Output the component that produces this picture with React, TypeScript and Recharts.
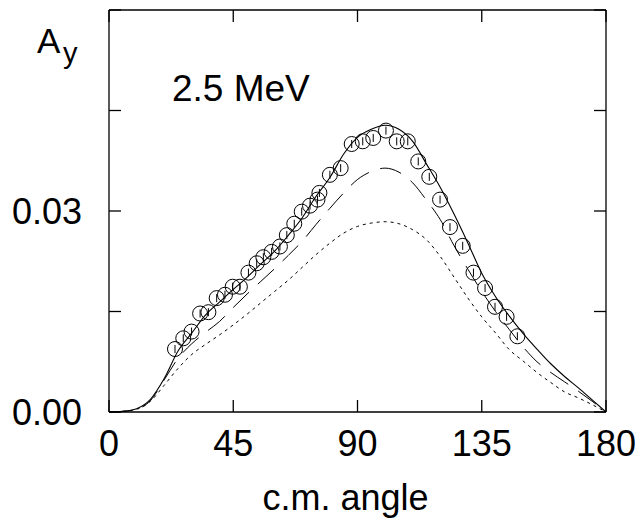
import React from 'react';
import {
    ComposedChart,
    Line,
    Scatter,
    ErrorBar,
    XAxis,
    YAxis,
    Label
} from 'recharts';

// theory curves, sampled every 5 degrees
const ANGLES = [0, 5, 10, 15, 20, 25, 30, 35, 40, 45, 50, 55, 60, 65, 70, 75, 80, 85, 90,
    95, 100, 105, 110, 115, 120, 125, 130, 135, 140, 145, 150, 155, 160, 165, 170, 175, 180];
const SOLID = [0, 0.0001, 0.0005, 0.0019, 0.0050, 0.0091, 0.0118, 0.0145, 0.0164, 0.0183, 0.0201,
    0.0221, 0.0240, 0.0264, 0.0290, 0.0322, 0.0350, 0.0385, 0.0410, 0.0422, 0.0428, 0.0422, 0.0404,
    0.0370, 0.0335, 0.0295, 0.0252, 0.0207, 0.0172, 0.0143, 0.0117, 0.0094, 0.0072, 0.0053, 0.0036, 0.0018, 0];
const DASHED = [0, 0.0001, 0.0004, 0.0017, 0.0048, 0.0080, 0.0102, 0.0119, 0.0135, 0.0156, 0.0176,
    0.0195, 0.0214, 0.0234, 0.0255, 0.0280, 0.0304, 0.0327, 0.0347, 0.0359, 0.0364, 0.0358, 0.0342,
    0.0316, 0.0287, 0.0248, 0.0213, 0.0180, 0.0150, 0.0123, 0.0097, 0.0075, 0.0059, 0.0045, 0.0031, 0.0016, 0];
const DOTTED = [0, 0.0001, 0.0004, 0.0016, 0.0040, 0.0065, 0.0086, 0.0101, 0.0115, 0.0130, 0.0146,
    0.0163, 0.0180, 0.0197, 0.0216, 0.0235, 0.0252, 0.0267, 0.0277, 0.0282, 0.0284, 0.0281, 0.0272,
    0.0257, 0.0232, 0.0201, 0.0170, 0.0142, 0.0118, 0.0093, 0.0076, 0.0059, 0.0044, 0.0030, 0.0021, 0.0011, 0];

// measured points
const DATA_ANGLES = [23.9, 26.9, 29.9, 33, 36, 39, 42, 44.8, 47.4, 50.5, 53.5, 55.9, 58.9, 61.9,
    64.4, 67.1, 69.8, 72.8, 75.5, 76.2, 80, 83.9, 87.9, 91.9, 95.7, 100.3, 104.2, 108.2, 112, 116,
    119.9, 123.5, 128.1, 132, 136.2, 139.8, 144, 147.9];
const DATA_AY = [0.0094, 0.0110, 0.0120, 0.0147, 0.0149, 0.0170, 0.0175, 0.0187, 0.0187, 0.0208,
    0.0222, 0.0231, 0.0239, 0.0247, 0.0264, 0.0281, 0.0299, 0.0308, 0.0317, 0.0327, 0.0354, 0.0364,
    0.0400, 0.0404, 0.0409, 0.0420, 0.0404, 0.0404, 0.0374, 0.0351, 0.0317, 0.0276, 0.0248, 0.0208,
    0.0185, 0.0157, 0.0142, 0.0113];
const DATA_ERR = 0.0006;

const X_TICKS = [0, 45, 90, 135, 180];
const Y_TICKS = [0, 0.015, 0.03, 0.045, 0.06];
const Y_LABELED = [0, 0.03];

const FONT = '"Liberation Sans", Arial, sans-serif';

const curves = ANGLES.map((a, i) => ({ angle: a, solid: SOLID[i], dashed: DASHED[i], dotted: DOTTED[i] }));
const points = DATA_ANGLES.map((a, i) => ({ angle: a, ay: DATA_AY[i], err: DATA_ERR }));

const OpenCircle = (props: any) => (
    <circle cx={props.cx} cy={props.cy} r={7.5} fill="none" stroke="#000" strokeWidth={1} />
);

const tickStyle = { fontFamily: FONT, fontSize: 36, fill: '#000' };

export default function App() {
    return (
        <div style={{ position: 'absolute', left: 0, top: 0, background: '#fff' }}>
            <ComposedChart
                width={642}
                height={523}
                data={curves}
                margin={{ top: 9, right: 35, bottom: 0, left: 0 }}
            >
                <XAxis
                    dataKey="angle"
                    type="number"
                    domain={[0, 180]}
                    ticks={X_TICKS}
                    height={111}
                    tickSize={-12}
                    tickMargin={30}
                    stroke="#000"
                    strokeWidth={1.3}
                    tick={tickStyle}
                >
                    <Label
                        value="c.m. angle"
                        position="insideBottom"
                        offset={13}
                        dx={-12}
                        style={{ fontFamily: FONT, fontSize: 36, fill: '#000' }}
                    />
                </XAxis>
                {/* frame top, ticks pointing in */}
                <XAxis
                    xAxisId="top"
                    orientation="top"
                    dataKey="angle"
                    type="number"
                    domain={[0, 180]}
                    ticks={X_TICKS}
                    height={1}
                    tickSize={-12}
                    tickFormatter={() => ''}
                    stroke="#000"
                    strokeWidth={1.3}
                />
                <YAxis
                    type="number"
                    domain={[0, 0.06]}
                    ticks={Y_TICKS}
                    width={109}
                    tickSize={-12}
                    tickMargin={39}
                    stroke="#000"
                    strokeWidth={1.3}
                    tick={tickStyle}
                    tickFormatter={(v: number) => (Y_LABELED.includes(v) ? v.toFixed(2) : '')}
                >
                    <Label
                        content={() => (
                            <g fontFamily={FONT} fill="#000">
                                <text x={37} y={53} fontSize={35}>A</text>
                                <text x={63} y={63} fontSize={29}>y</text>
                                <text x={172} y={101} fontSize={37}>2.5 MeV</text>
                            </g>
                        )}
                    />
                </YAxis>
                {/* frame right */}
                <YAxis
                    yAxisId="right"
                    orientation="right"
                    type="number"
                    domain={[0, 0.06]}
                    ticks={Y_TICKS}
                    width={1}
                    tickSize={-12}
                    tickFormatter={() => ''}
                    stroke="#000"
                    strokeWidth={1.3}
                />
                {/* invisible series so the top/right frame axes are in use */}
                <Line
                    xAxisId="top"
                    yAxisId="right"
                    dataKey="solid"
                    stroke="none"
                    dot={false}
                    isAnimationActive={false}
                />
                <Line
                    type="monotone"
                    dataKey="dotted"
                    stroke="#000"
                    strokeWidth={1}
                    strokeDasharray="3 4"
                    dot={false}
                    isAnimationActive={false}
                />
                <Line
                    type="monotone"
                    dataKey="dashed"
                    stroke="#000"
                    strokeWidth={1}
                    strokeDasharray="22 12"
                    dot={false}
                    isAnimationActive={false}
                />
                <Line
                    type="monotone"
                    dataKey="solid"
                    stroke="#000"
                    strokeWidth={1.1}
                    dot={false}
                    isAnimationActive={false}
                />
                <Scatter
                    data={points}
                    dataKey="ay"
                    shape={<OpenCircle />}
                    isAnimationActive={false}
                >
                    <ErrorBar dataKey="err" direction="y" width={0} stroke="#000" strokeWidth={1} />
                </Scatter>
            </ComposedChart>
        </div>
    );
}
